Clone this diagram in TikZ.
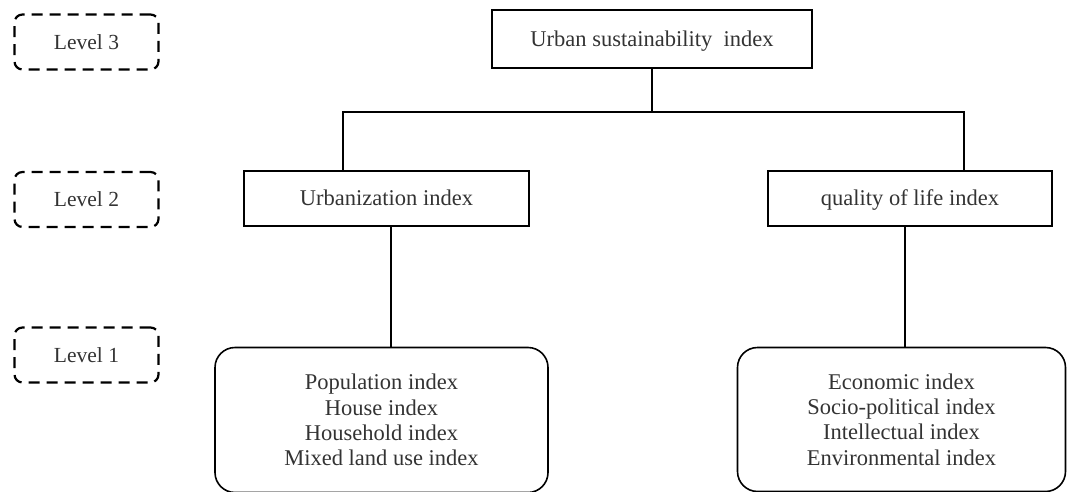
\documentclass[tikz,border=0pt]{standalone}
\usepackage{fontspec}
\setmainfont{Liberation Serif}
\begin{document}
\begin{tikzpicture}[x=1pt,y=-1pt,
  lvl/.style={draw,dashed,dash pattern=on 11pt off 7pt,line width=2.2pt,rounded corners=8pt,minimum width=144pt,minimum height=55pt,inner sep=0pt,text height=19pt,text depth=4.5pt,text=black!80,font=\fontsize{21.5}{24}\selectfont},
  sqbox/.style={draw,line width=2.2pt,inner sep=0pt,text height=19pt,text depth=4.5pt,text=black!80,font=\fontsize{22.5}{25}\selectfont},
  rbox/.style={draw,line width=1.6pt,rounded corners=20pt,inner sep=0pt,align=center,text=black!80,font=\fontsize{22.5}{25.2}\selectfont},
  conn/.style={line width=1.6pt}]
\useasboundingbox (0,0) rectangle (1067,492);
\node[lvl] (lv3) at (86.5,42) {Level 3};
\node[lvl] (lv2) at (86.5,199.5) {Level 2};
\node[lvl] (lv1) at (86.5,355) {Level 1};
\node[sqbox,minimum width=320pt,minimum height=58pt] (top) at (652,39) {Urban sustainability \ index};
\node[sqbox,minimum width=285pt,minimum height=55pt] (l2a) at (386.5,198.5) {Urbanization index};
\node[sqbox,minimum width=284pt,minimum height=55pt] (l2b) at (910,198.5) {quality of life index};
\node[rbox,minimum width=333pt,minimum height=145pt] (l1a) at (381.5,420) {Population index\\House index\\Household index\\Mixed land use index};
\node[rbox,minimum width=328pt,minimum height=144pt] (l1b) at (901.5,419.5) {Economic index\\Socio-political index\\Intellectual index\\Environmental index};
\coordinate (jl) at (343,112);
\coordinate (jr) at (964,112);
\coordinate (dl) at (391,0);
\coordinate (dr) at (905,0);
\draw[conn] (top.south) -- (top.south |- jl);
\draw[conn] (l2a.north -| jl) -- (jl) -- (jr) -- (l2b.north -| jr);
\draw[conn] (l2a.south -| dl) -- (l1a.north -| dl);
\draw[conn] (l2b.south -| dr) -- (l1b.north -| dr);
\end{tikzpicture}
\end{document}
